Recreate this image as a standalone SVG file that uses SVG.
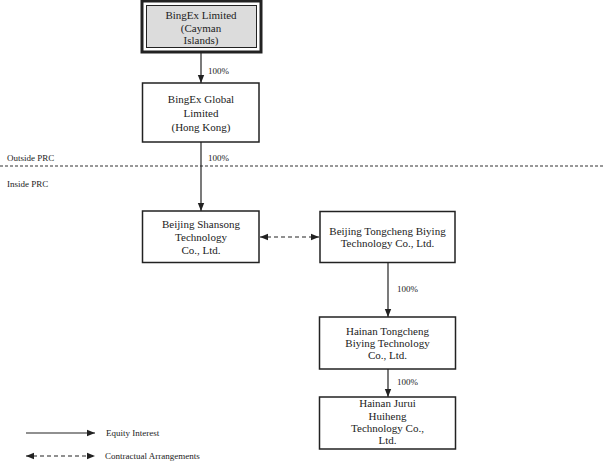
<svg xmlns="http://www.w3.org/2000/svg" width="605" height="462" viewBox="0 0 605 462">
<style>
.box{fill:#fff;stroke:#222;stroke-width:1.5}
.t{font-family:"Liberation Serif","Times New Roman",serif;font-size:11px;fill:#222;text-anchor:middle}
.s{font-family:"Liberation Serif","Times New Roman",serif;font-size:9px;fill:#222}
.ln{stroke:#222;stroke-width:1.2;fill:none}
.dash{stroke:#222;stroke-width:1.2;fill:none;stroke-dasharray:4 3}
</style>
<defs>
<marker id="ah" markerUnits="userSpaceOnUse" markerWidth="8" markerHeight="8" viewBox="0 0 8 8" refX="8" refY="4" orient="auto-start-reverse">
<path d="M0,0.8 L8,4 L0,7.2 Z" fill="#222"/>
</marker>
</defs>
<rect width="605" height="462" fill="#fff"/>

<g id="prc-line">
<line x1="0" y1="166" x2="605" y2="166" stroke="#333" stroke-width="1" stroke-dasharray="3 2"/>
<text class="s" x="7" y="161">Outside PRC</text>
<text class="s" x="7" y="187">Inside PRC</text>
</g>

<g id="connectors">
<line class="ln" x1="201" y1="53" x2="201" y2="83" marker-end="url(#ah)"/>
<text class="s" x="208" y="74">100%</text>
<line class="ln" x1="201" y1="142" x2="201" y2="211" marker-end="url(#ah)"/>
<text class="s" x="208" y="161">100%</text>
<line class="dash" x1="260" y1="237" x2="319" y2="237" marker-start="url(#ah)" marker-end="url(#ah)"/>
<line class="ln" x1="388" y1="263" x2="388" y2="317" marker-end="url(#ah)"/>
<text class="s" x="397" y="292">100%</text>
<line class="ln" x1="388" y1="369" x2="388" y2="397" marker-end="url(#ah)"/>
<text class="s" x="397" y="385">100%</text>
</g>

<g id="bingex-limited">
<rect x="142" y="1" width="119" height="51" fill="#fff" stroke="#222" stroke-width="3"/>
<rect x="146.5" y="5.5" width="110" height="42" fill="#dcdcdc" stroke="#222" stroke-width="1"/>
<text class="t" x="201" y="19">BingEx Limited</text>
<text class="t" x="201" y="31.5">(Cayman</text>
<text class="t" x="201" y="44">Islands)</text>
</g>

<g id="bingex-global">
<rect class="box" x="142.5" y="83" width="116.5" height="59"/>
<text class="t" x="201" y="103">BingEx Global</text>
<text class="t" x="201" y="117">Limited</text>
<text class="t" x="201" y="131">(Hong Kong)</text>
</g>

<g id="beijing-shansong">
<rect class="box" x="142.5" y="211" width="116.5" height="51.5"/>
<text class="t" x="201" y="228">Beijing Shansong</text>
<text class="t" x="201" y="241">Technology</text>
<text class="t" x="201" y="254">Co., Ltd.</text>
</g>

<g id="beijing-tongcheng">
<rect class="box" x="320" y="211.5" width="135" height="51"/>
<text class="t" x="387.5" y="234.5">Beijing Tongcheng Biying</text>
<text class="t" x="387.5" y="247">Technology Co., Ltd.</text>
</g>

<g id="hainan-tongcheng">
<rect class="box" x="319.5" y="317" width="136" height="52"/>
<text class="t" x="387.5" y="334.5">Hainan Tongcheng</text>
<text class="t" x="387.5" y="346.5">Biying Technology</text>
<text class="t" x="387.5" y="359">Co., Ltd.</text>
</g>

<g id="hainan-jurui">
<rect class="box" x="319.5" y="397" width="136" height="52"/>
<text class="t" x="387.5" y="407">Hainan Jurui</text>
<text class="t" x="387.5" y="419.5">Huiheng</text>
<text class="t" x="387.5" y="431.5">Technology Co.,</text>
<text class="t" x="387.5" y="444">Ltd.</text>
</g>

<g id="legend">
<line class="ln" x1="26" y1="433" x2="95" y2="433" marker-end="url(#ah)"/>
<text class="s" x="106" y="436">Equity Interest</text>
<line class="dash" x1="26" y1="456" x2="95" y2="456" marker-start="url(#ah)" marker-end="url(#ah)"/>
<text class="s" x="105" y="459">Contractual Arrangements</text>
</g>
</svg>
